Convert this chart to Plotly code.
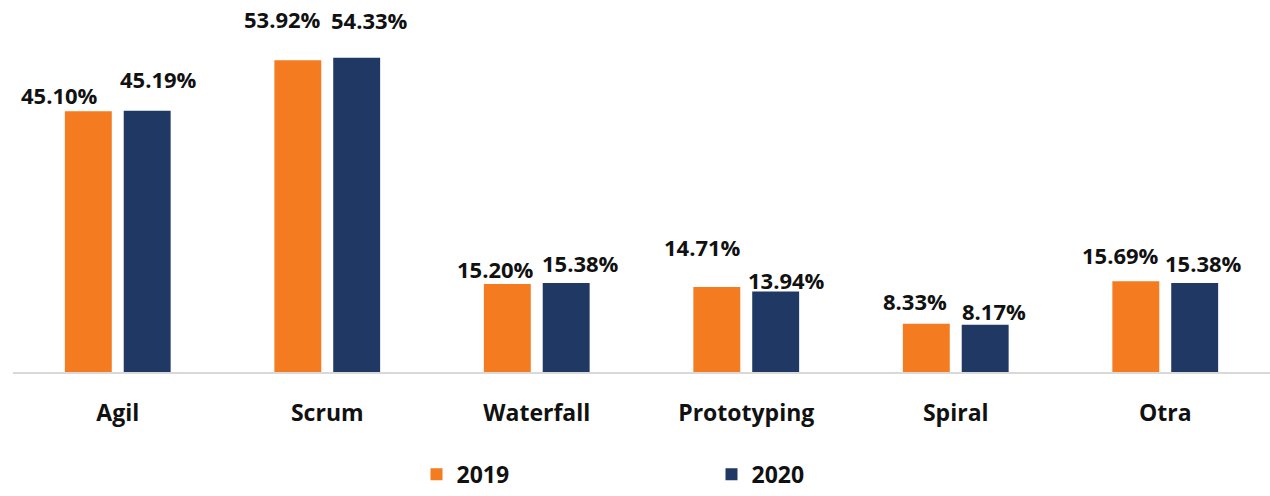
import plotly.graph_objects as go

categories = ["Agil", "Scrum", "Waterfall", "Prototyping", "Spiral", "Otra"]
values_2019 = [45.10, 53.92, 15.20, 14.71, 8.33, 15.69]
values_2020 = [45.19, 54.33, 15.38, 13.94, 8.17, 15.38]
series_names = ["2019", "2020"]

# label offsets (px) relative to the top-centre of each bar
label_dx_2019 = [-29, -15, -12, -14, -11, -15]
label_dy_2019 = [16, 41, 15, 40, 23, 26]
label_dx_2020 = [11, 13, 14, 11, 9, 9]
label_dy_2020 = [32, 38, 20, 11, 14, 20]

ORANGE = "#F47B20"
NAVY = "#1F3864"
FONT = "Open Sans"
BARGAP = 0.438
BARGROUPGAP = 0.203

fig = go.Figure()
fig.add_trace(go.Bar(x=categories, y=values_2019, name=series_names[0],
                     marker=dict(color=ORANGE, line=dict(width=0))))
fig.add_trace(go.Bar(x=categories, y=values_2020, name=series_names[1],
                     marker=dict(color=NAVY, line=dict(width=0))))

slot = (1 - BARGAP) / 2
annotations = []
for i in range(len(categories)):
    for vals, dxs, dys, sign in ((values_2019, label_dx_2019, label_dy_2019, -1),
                                 (values_2020, label_dx_2020, label_dy_2020, 1)):
        annotations.append(dict(
            x=i + sign * slot / 2, y=vals[i], xref="x", yref="y",
            text=f"{vals[i]:.2f}%", showarrow=False,
            xanchor="center", yanchor="middle",
            xshift=dxs[i], yshift=dys[i],
            font=dict(family=FONT, size=22, color="#111111", weight="bold"),
        ))

fig.update_layout(
    width=1270, height=496,
    margin=dict(l=13, r=0, t=25, b=124, autoexpand=False),
    paper_bgcolor="white", plot_bgcolor="white",
    barmode="group", bargap=BARGAP, bargroupgap=BARGROUPGAP,
    annotations=annotations,
    font=dict(family=FONT, color="#111111"),
    legend=dict(orientation="h", x=0.321, xanchor="left", y=-0.357, yanchor="bottom",
                entrywidth=250, entrywidthmode="pixels",
                font=dict(family=FONT, size=23, color="#111111", weight="bold"),
                itemsizing="constant"),
    showlegend=True,
)
fig.update_xaxes(showline=True, linecolor="#D9D9D9", linewidth=2,
                 ticks="", showgrid=False, automargin=False,
                 tickfont=dict(family=FONT, size=23, color="#111111", weight="bold"),
                 ticklabelstandoff=19)
fig.update_yaxes(range=[0, 60], visible=False, showgrid=False, zeroline=False,
                 automargin=False)

fig.write_html("out.html", config={"displayModeBar": False},
               post_script="document.body.style.margin='0';")
